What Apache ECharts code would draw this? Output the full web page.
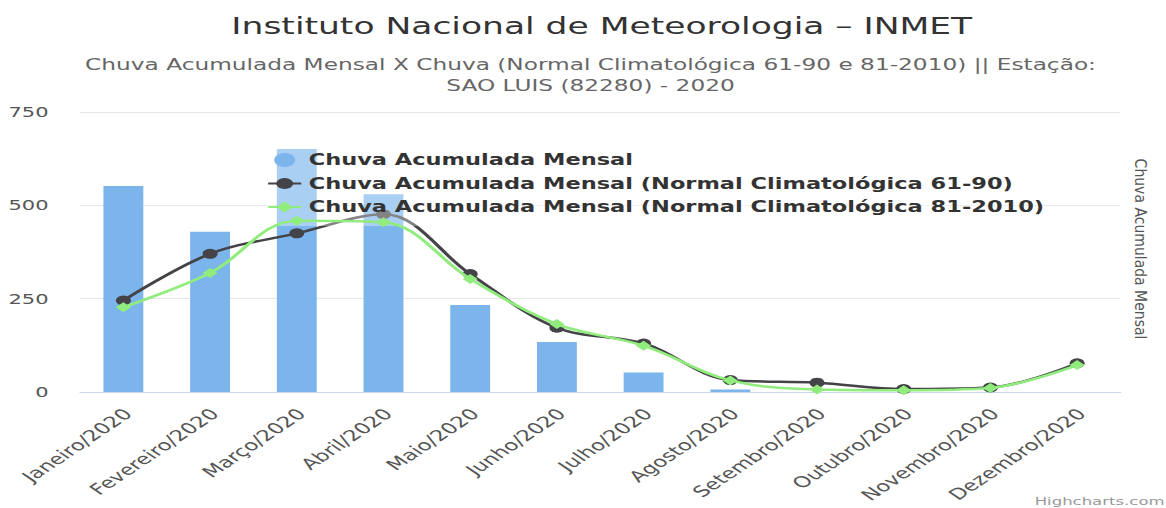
<!DOCTYPE html>
<html><head><meta charset="utf-8">
<script src="https://cdn.jsdelivr.net/npm/echarts@6/dist/echarts.min.js"></script>
<style>
html,body{margin:0;padding:0;background:#fff;overflow:hidden;width:1166px;height:508px}
#chart{width:777px;height:508px;transform:scaleX(1.50064);transform-origin:0 0}
</style></head><body><div id="chart"></div>
<script>
const categories = ['Janeiro/2020','Fevereiro/2020','Março/2020','Abril/2020','Maio/2020','Junho/2020','Julho/2020','Agosto/2020','Setembro/2020','Outubro/2020','Novembro/2020','Dezembro/2020'];
const chuvaMensal = [552, 429, 651, 530, 233, 134, 52, 7, 0, 0, 0, 0];
const normal6190 = [245, 370, 425, 476, 316, 172, 130, 32, 25, 8, 12, 77];
const normal8110 = [227, 319, 459, 455, 303, 182, 124, 31, 7, 5, 11, 72];
const yTicks = [0, 250, 500, 750];
const seriesNames = ['Chuva Acumulada Mensal','Chuva Acumulada Mensal (Normal Climatológica 61-90)','Chuva Acumulada Mensal (Normal Climatológica 81-2010)'];
const titleText = 'Instituto Nacional de Meteorologia – INMET';
const subtitleText = 'Chuva Acumulada Mensal X Chuva (Normal Climatológica 61-90 e 81-2010) || Estação:\nSAO LUIS (82280) - 2020';
const yAxisTitle = 'Chuva Acumulada Mensal';
const creditText = 'Highcharts.com';

const FONT = '"DejaVu Sans", Verdana, sans-serif';
const chart = echarts.init(document.getElementById('chart'), null, {renderer: 'svg'});
chart.setOption({
  animation: false,
  backgroundColor: '#fff',
  title: [
    {text: titleText, left: 401, top: 14.3, padding: 0, textAlign: 'center',
     textStyle: {fontFamily: FONT, fontSize: 23, fontWeight: 'normal', color: '#333', lineHeight: 23}},
    {text: subtitleText, left: 393.5, top: 54.6, padding: 0, textAlign: 'center',
     textStyle: {fontFamily: FONT, fontSize: 15.5, fontWeight: 'normal', color: '#666', lineHeight: 20.8}}
  ],
  legend: {
    orient: 'vertical', left: 176.7, top: 144, padding: [8, 1, 11, 1],
    itemWidth: 22, itemHeight: 14, itemGap: 7.5,
    backgroundColor: 'rgba(255,255,255,0.35)',
    textStyle: {fontFamily: FONT, fontSize: 15, fontWeight: 'bold', color: '#333', lineHeight: 16},
    data: [{name: seriesNames[0], icon: 'circle'}, {name: seriesNames[1]}, {name: seriesNames[2]}]
  },
  grid: {left: 53.33, right: 30.33, top: 112, bottom: 116, containLabel: false},
  xAxis: {
    type: 'category', data: categories, boundaryGap: true,
    axisLine: {show: true, lineStyle: {color: '#ccd6eb', width: 1}},
    axisTick: {show: false},
    axisLabel: {interval: 0, rotate: 45, margin: 12, verticalAlign: 'top', align: 'right',
      padding: [0, 3, 0, 0],
      fontFamily: FONT, fontSize: 15.2, color: '#555'},
    splitLine: {show: false}
  },
  yAxis: {
    type: 'value', min: yTicks[0], max: yTicks[yTicks.length - 1], interval: 250,
    axisLine: {show: false}, axisTick: {show: false},
    axisLabel: {margin: 21, fontFamily: FONT, fontSize: 14, color: '#555'},
    splitLine: {show: true, lineStyle: {color: '#e6e6e6', width: 1}}
  },
  graphic: [
    {type: 'text', x: 760, y: 249, rotation: -Math.PI / 2, scaleX: 1, scaleY: 0.77,
     style: {text: yAxisTitle, fontFamily: FONT, fontSize: 14, fill: '#555', align: 'center', verticalAlign: 'middle'}},
    {type: 'text', x: 689.5, y: 501.5,
     style: {text: creditText, fontFamily: FONT, fontSize: 11, fill: '#999', align: 'left', verticalAlign: 'middle'}}
  ],
  series: [
    {name: seriesNames[0], type: 'bar', data: chuvaMensal, barWidth: '46%',
     itemStyle: {color: '#7cb5ec'}, z: 2},
    {name: seriesNames[1], type: 'line', data: normal6190, smooth: 0.35, symbol: 'circle', symbolSize: 10,
     showAllSymbol: true, lineStyle: {color: '#434348', width: 2.5}, itemStyle: {color: '#434348'}, z: 3},
    {name: seriesNames[2], type: 'line', data: normal8110, smooth: 0.35, symbol: 'diamond', symbolSize: 10,
     showAllSymbol: true, lineStyle: {color: '#90ed7d', width: 2.5}, itemStyle: {color: '#90ed7d'}, z: 4}
  ]
});
</script></body></html>
